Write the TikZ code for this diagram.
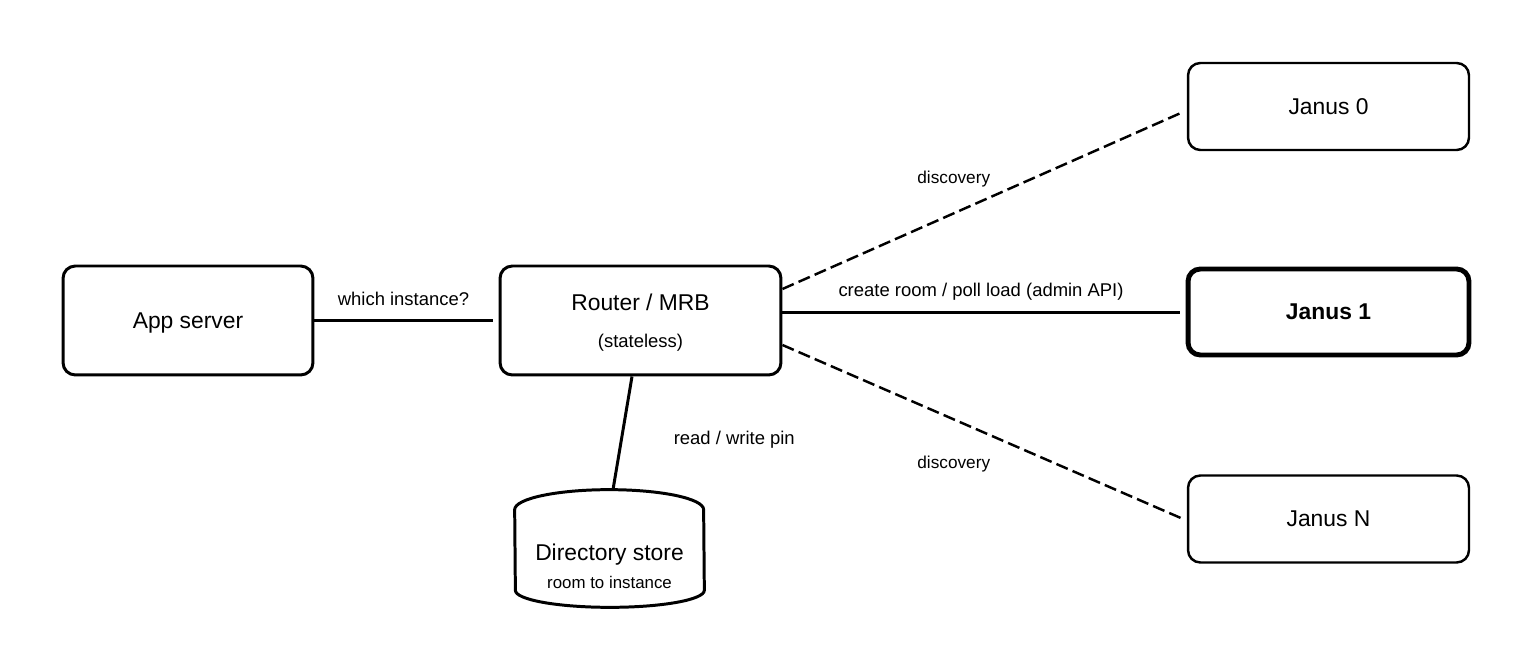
\documentclass[tikz,border=0pt]{standalone}
\usepackage{fontspec}
\setmainfont{Liberation Sans}
\usetikzlibrary{positioning}
\tikzset{
  box/.style={draw,line width=1.7pt,rounded corners=7pt,align=center,text depth=0pt,
    minimum width=5.62cm,minimum height=2.18cm,font=\fontsize{13}{15}\selectfont},
  box_thin/.style={box,line width=1.4pt,minimum height=1.74cm},
  box_bold/.style={box,line width=2.8pt,minimum height=1.72cm,font=\fontsize{13}{15}\selectfont\bfseries},
  store/.style={minimum width=3.78cm,minimum height=2.34cm,align=center,font=\fontsize{13}{15}\selectfont},
  link/.style={line width=1.7pt},
  link_d/.style={line width=1.4pt,dashed,dash pattern=on 7pt off 3pt},
  lbl/.style={font=\fontsize{10.5}{12}\selectfont},
  lbl_s/.style={font=\fontsize{9.8}{11}\selectfont},
}
\begin{document}
\begin{tikzpicture}[x=0.02cm,y=-0.02cm]
    \useasboundingbox (0,0) rectangle (1531,671);
    \node[box,minimum width=5cm] (app) at (188,320.5) {App server};
    \node[box] (rt) at (640.5,320.5) {Router / MRB\\[6pt]{\fontsize{10.5}{12}\selectfont (stateless)}};
    \node[box_thin] (j0) at (1328.5,106.5) {Janus 0};
    \node[box_bold] (j1) at (1328.5,312) {Janus 1};
    \node[box_thin] (jn) at (1328.5,519) {Janus N};
    \node[store] (dir) at (609.5,548.5) {\\[15pt]Directory store\\[1pt]{\fontsize{9.6}{11}\selectfont room to instance}};
    % drum outline of the store
    \draw[link]([yshift=-0.4cm]dir.north west) arc[start angle=180,end angle=0,x radius=1.89cm,y radius=0.4cm]
      --([yshift=0.34cm]dir.south east) arc[start angle=0,end angle=-180,x radius=1.89cm,y radius=0.34cm]--cycle;
    \draw[link](app.east)--node[lbl,above=4.5pt]{which instance?}([xshift=-0.12cm]rt.west);
    \draw[link]([yshift=-0.01cm]rt.east |- j1.west)--node[lbl,above=3pt]{create room / poll load (admin API)}([xshift=-0.12cm,yshift=-0.01cm]j1.west);
    \draw[link_d]([yshift=0.63cm]rt.east)--node[lbl_s,pos=0.43,above=11pt]{discovery}([xshift=-0.12cm,yshift=-0.13cm]j0.west);
    \draw[link_d]([yshift=-0.49cm]rt.east)--node[lbl_s,pos=0.43,below=17pt]{discovery}([xshift=-0.12cm,yshift=0.02cm]jn.west);
    \draw[link]([xshift=-0.17cm]rt.south)--node[lbl,right=25pt,yshift=-4pt]{read / write pin}([xshift=0.07cm]dir.north);
  \end{tikzpicture}
\end{document}
